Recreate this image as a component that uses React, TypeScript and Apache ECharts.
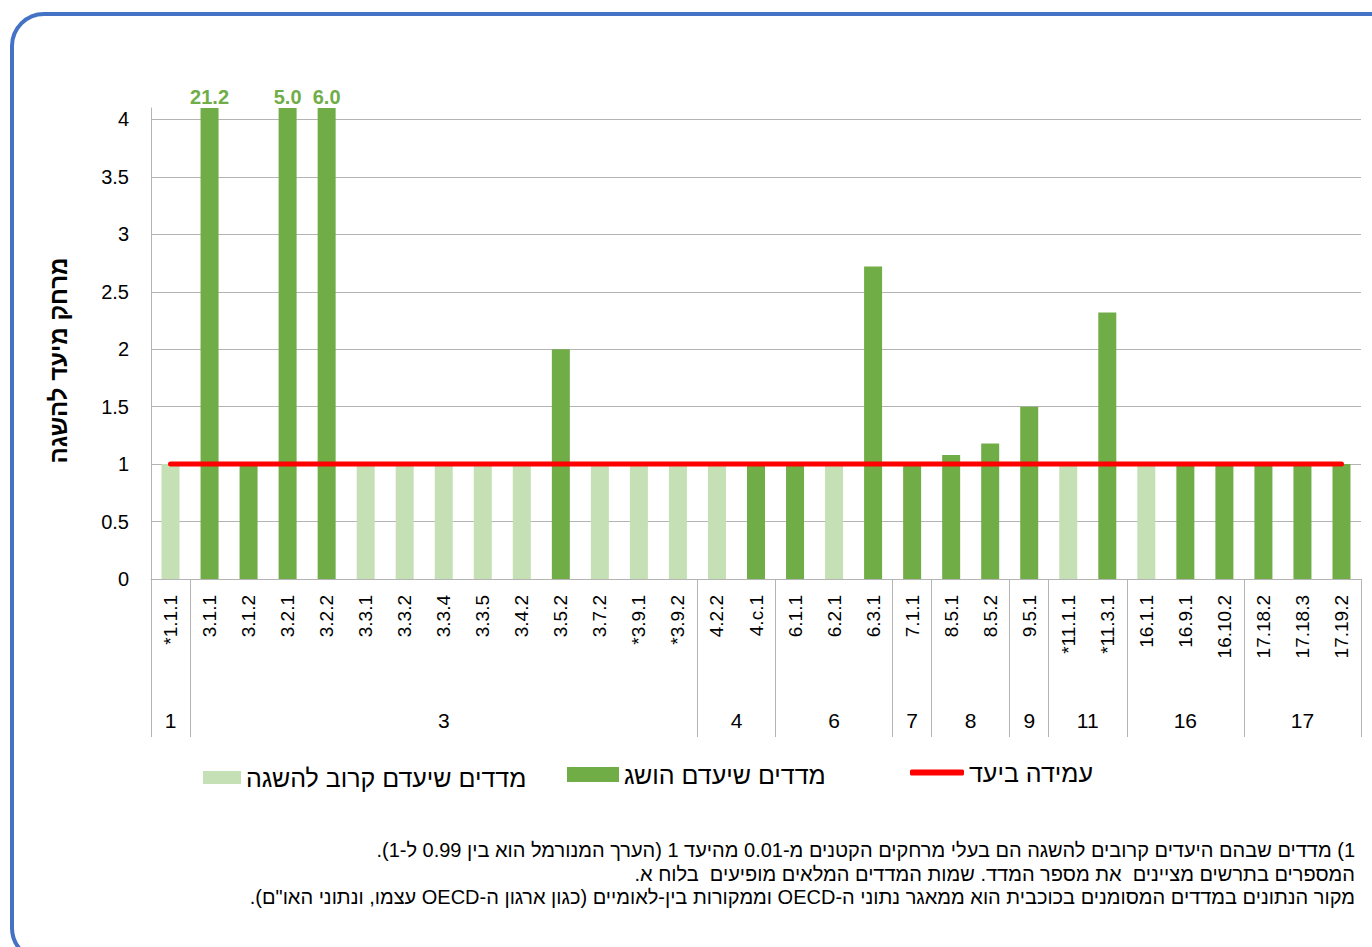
import React, { useEffect, useRef } from "react";
import * as echarts from "echarts";

const categories = [
  "*1.1.1", "3.1.1", "3.1.2", "3.2.1", "3.2.2", "3.3.1", "3.3.2", "3.3.4", "3.3.5", "3.4.2",
  "3.5.2", "3.7.2", "*3.9.1", "*3.9.2", "4.2.2", "4.c.1", "6.1.1", "6.2.1", "6.3.1", "7.1.1",
  "8.5.1", "8.5.2", "9.5.1", "*11.1.1", "*11.3.1", "16.1.1", "16.9.1", "16.10.2", "17.18.2", "17.18.3",
  "17.19.2",
];

// indicators whose target is close to being achieved (light green)
const nearValues = [
  1, null, null, null, null, 1, 1, 1, 1, 1,
  null, 1, 1, 1, 1, null, null, 1, null, null,
  null, null, null, 1, null, 1, null, null, null, null,
  null,
];

// indicators whose target was achieved (dark green)
const achievedValues = [
  null, 21.2, 1, 5.0, 6.0, null, null, null, null, null,
  2.0, null, null, null, null, 1, 1, null, 2.72, 1,
  1.08, 1.18, 1.5, null, 2.32, null, 1, 1, 1, 1,
  1,
];

const targetValues = [
  1, 1, 1, 1, 1, 1, 1, 1, 1, 1,
  1, 1, 1, 1, 1, 1, 1, 1, 1, 1,
  1, 1, 1, 1, 1, 1, 1, 1, 1, 1,
  1,
];

const seriesNames = ["מדדים שיעדם קרוב להשגה", "מדדים שיעדם הושג", "עמידה ביעד"];
const yAxisTitle = "מרחק מיעד להשגה";
const footnotes = [
  "1) מדדים שבהם היעדים קרובים להשגה הם בעלי מרחקים הקטנים מ-0.01 מהיעד 1 (הערך המנורמל הוא בין 0.99 ל-1).",
  "המספרים בתרשים מציינים  את מספר המדד. שמות המדדים המלאים מופיעים  בלוח א.",
  "מקור הנתונים במדדים המסומנים בכוכבית הוא ממאגר נתוני ה-OECD וממקורות בין-לאומיים (כגון ארגון ה-OECD עצמו, ונתוני האו\"ם).",
];

const Y_MAX = 4.1;
const FONT = "'Liberation Sans', Arial, 'DejaVu Sans', sans-serif";
const LIGHT = "#C5E0B4";
const DARK = "#70AD47";
const GRID_GRAY = "#B4B4B4";

// derive goal groups from the categories
const groupNames: string[] = [];
const groupStarts: number[] = [];
categories.forEach((c, i) => {
  const g = c.replace("*", "").split(".")[0];
  if (groupNames.length === 0 || groupNames[groupNames.length - 1] !== g) {
    groupNames.push(g);
    groupStarts.push(i);
  }
});
const boundaries = [...groupStarts, categories.length];
const centers = groupNames.map((_, i) => (boundaries[i] + boundaries[i + 1]) / 2);

export default function App() {
  const ref = useRef<HTMLDivElement>(null);

  useEffect(() => {
    if (!ref.current) return;
    const chart = echarts.init(ref.current, null, { renderer: "svg" });
    const RLE = "\u202B";
    const PDF = "\u202C";
    chart.setOption({
      animation: false,
      backgroundColor: "#ffffff",
      textStyle: { fontFamily: FONT },
      grid: { left: 151, right: 11, top: 108, bottom: 368, containLabel: false },
      legend: [
        {
          left: 203, top: 765, padding: 0,
          data: [{ name: seriesNames[0], icon: "rect" }],
          itemWidth: 38, itemHeight: 13,
          textStyle: { fontSize: 25, color: "#000", fontFamily: FONT },
          selectedMode: false,
        },
        {
          left: 567, top: 762, padding: 0,
          data: [{ name: seriesNames[1], icon: "rect" }],
          itemWidth: 52, itemHeight: 15,
          textStyle: { fontSize: 25, color: "#000", fontFamily: FONT },
          selectedMode: false,
        },
        {
          left: 910, top: 760, padding: 0,
          data: [{ name: seriesNames[2], icon: "roundRect" }],
          itemWidth: 54, itemHeight: 6,
          itemStyle: { color: "#FF0000" },
          textStyle: { fontSize: 25, color: "#000", fontFamily: FONT },
          selectedMode: false,
        },
      ],
      xAxis: [
        {
          type: "category",
          data: categories,
          position: "bottom",
          boundaryGap: true,
          axisLine: { show: true, lineStyle: { color: GRID_GRAY, width: 1 } },
          axisTick: { show: false },
          axisLabel: {
            rotate: 90,
            interval: 0,
            margin: 16,
            fontSize: 19,
            color: "#000",
            fontFamily: FONT,
          },
          splitLine: { show: false },
        },
        {
          type: "value",
          min: 0,
          max: categories.length,
          position: "bottom",
          axisLine: { show: false },
          splitLine: { show: false },
          axisTick: {
            show: true,
            customValues: boundaries,
            length: 158,
            lineStyle: { color: GRID_GRAY, width: 1 },
          },
          axisLabel: {
            show: true,
            customValues: centers,
            margin: 131,
            fontSize: 21,
            color: "#000",
            fontFamily: FONT,
            formatter: (v: number) => {
              const idx = centers.findIndex((c) => Math.abs(c - v) < 1e-6);
              return idx >= 0 ? groupNames[idx] : "";
            },
          },
        },
      ],
      yAxis: {
        type: "value",
        min: 0,
        max: Y_MAX,
        interval: 0.5,
        name: yAxisTitle,
        nameLocation: "middle",
        nameGap: 81,
        nameRotate: 90,
        nameTextStyle: {
          fontSize: 24,
          fontWeight: "bold",
          color: "#000",
          fontFamily: FONT,
          padding: [0, 34, 0, 0],
        },
        axisLine: { show: true, lineStyle: { color: GRID_GRAY, width: 1 } },
        axisTick: { show: false },
        axisLabel: {
          showMaxLabel: false,
          margin: 22,
          fontSize: 20,
          color: "#000",
          fontFamily: FONT,
        },
        splitLine: { show: true, showMaxLine: false, lineStyle: { color: GRID_GRAY, width: 1 } },
      },
      series: [
        {
          name: seriesNames[0],
          type: "bar",
          stack: "ind",
          data: nearValues,
          barWidth: 18,
          itemStyle: { color: LIGHT },
          z: 2,
        },
        {
          name: seriesNames[1],
          type: "bar",
          stack: "ind",
          data: achievedValues,
          barWidth: 18,
          itemStyle: { color: DARK },
          z: 2,
          label: {
            show: true,
            position: "top",
            distance: 1,
            color: DARK,
            fontWeight: "bold",
            fontSize: 20,
            fontFamily: FONT,
            formatter: (p: any) => (p.value != null && p.value > Y_MAX ? Number(p.value).toFixed(1) : ""),
          },
        },
        {
          name: seriesNames[2],
          type: "line",
          data: targetValues,
          symbol: "none",
          showSymbol: false,
          lineStyle: { color: "#FF0000", width: 5, cap: "round" },
          itemStyle: { color: "#FF0000" },
          z: 5,
        },
      ],
      graphic: [
        {
          type: "rect",
          shape: { x: 12, y: 14, width: 1420, height: 946, r: 32 },
          style: { fill: "none", stroke: "#4472C4", lineWidth: 4 },
          silent: true,
          z: 10,
        },
        ...footnotes.map((t, i) => ({
          type: "text",
          x: 1355,
          y: 840 + i * 23.5,
          style: {
            text: RLE + t + PDF,
            align: "right",
            verticalAlign: "top",
            fontSize: 20,
            fill: "#000",
            fontFamily: FONT,
          },
          silent: true,
        })),
      ],
    });
    return () => chart.dispose();
  }, []);

  return (
    <div
      ref={ref}
      style={{ position: "fixed", left: 0, top: 0, width: 1372, height: 947, background: "#fff" }}
    />
  );
}
